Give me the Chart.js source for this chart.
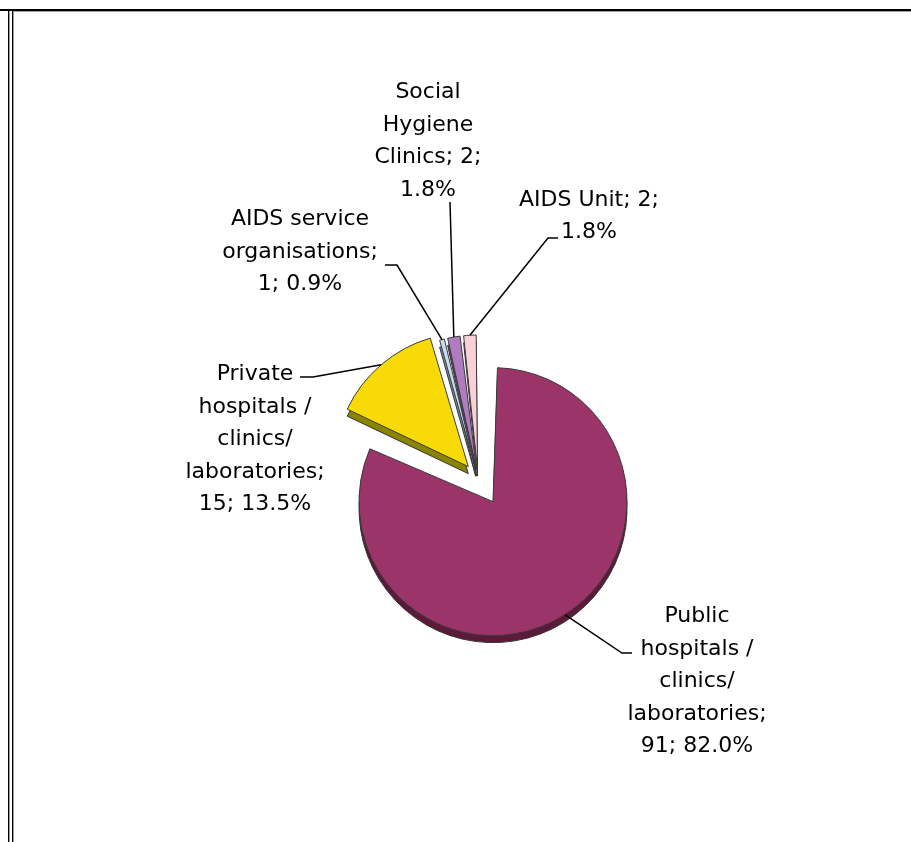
<!DOCTYPE html>
<html>
<head>
<meta charset="utf-8">
<script src="https://cdn.jsdelivr.net/npm/chart.js@4/dist/chart.umd.min.js"></script>
<style>
  html, body { margin: 0; padding: 0; background: #fff; }
  #wrap { position: relative; width: 911px; height: 842px; overflow: hidden; }
  #pie { position: absolute; left: 0; top: 0; }
  .ln { position: absolute; }
</style>
</head>
<body>
<div id="wrap">
  <canvas id="pie" width="911" height="842"></canvas>
  <!-- frame lines round the cell -->
  <div class="ln" style="left:0;top:9px;width:911px;height:2px;background:#000"></div>
  <div class="ln" style="left:13px;top:11px;width:898px;height:1px;background:#a0a0a0"></div>
  <div class="ln" style="left:8px;top:9px;width:1px;height:833px;background:#000"></div>
  <div class="ln" style="left:9px;top:11px;width:1px;height:831px;background:#a0a0a0"></div>
  <div class="ln" style="left:12px;top:9px;width:1px;height:833px;background:#000"></div>
  <div class="ln" style="left:13px;top:11px;width:1px;height:831px;background:#a0a0a0"></div>
</div>
<script>
// data
const categories = [
  "Public hospitals / clinics/ laboratories",
  "Private hospitals / clinics/ laboratories",
  "AIDS service organisations",
  "Social Hygiene Clinics",
  "AIDS Unit"
];
const counts = [91, 15, 1, 2, 2];
const percents = ["82.0%", "13.5%", "0.9%", "1.8%", "1.8%"];

const colors = ["#9b3468", "#f8da06", "#c8dbef", "#b07cc0", "#f9d0d8"];
const sideColors = ["#5c1a3b", "#8a8400", "#7d8ea2", "#6a4078", "#a58890"];
const offsets = [112, 60, 36, 36, 36];
const RADIUS = 134;

// how many words go on each label line
const wordsPerLine = [[1, 2, 1, 1, 2], [1, 2, 1, 1, 2], [2, 1, 2], [1, 1, 2, 1], [3, 1]];

// label placement: centre x, first baseline, leader points from text towards slice
const placement = [
  { x: 697, y: 622, leader: [[632, 653], [622, 653]] },
  { x: 255, y: 380, leader: [[300, 377], [313, 377]] },
  { x: 300, y: 225, leader: [[385, 265], [397, 265]] },
  { x: 428, y: 98,  leader: [[450, 202]] },
  { x: 589, y: 206, leader: [[558, 238], [548, 238]], lineHeight: 32 }
];

function labelLines(i) {
  const words = (categories[i] + "; " + counts[i] + "; " + percents[i]).split(" ");
  const out = [];
  let k = 0;
  wordsPerLine[i].forEach(n => {
    out.push(words.slice(k, k + n).join(" "));
    k += n;
  });
  return out;
}

// Chart.js moves an exploded arc by offset/4 and grows its radius by offset/4*fix
function arcGeom(arc) {
  const p = arc.getProps(["x", "y", "startAngle", "endAngle", "outerRadius", "circumference"], true);
  const move = (arc.options.offset || 0) / 4;
  const fix = 1 - Math.sin(Math.min(Math.PI, p.circumference || 0));
  const grow = move * fix;
  const outer = p.outerRadius + grow;
  const beta = Math.max(0.001, p.circumference * outer - grow / Math.PI) / outer;
  const cut = (p.circumference - beta) / 2;
  const mid = (p.startAngle + p.endAngle) / 2;
  return {
    cx: p.x + Math.cos(mid) * move,
    cy: p.y + Math.sin(mid) * move,
    r: outer,
    start: p.startAngle + cut,
    end: p.endAngle - cut,
    mid
  };
}

// keep every slice the same size even when exploded
const sizePlugin = {
  id: "sameSize",
  afterDatasetUpdate(chart) {
    chart.getDatasetMeta(0).data.forEach(arc => {
      const move = (arc.options.offset || 0) / 4;
      const fix = 1 - Math.sin(Math.min(Math.PI, arc.circumference || 0));
      arc.outerRadius = RADIUS - move * fix;
    });
  }
};

const depthPlugin = {
  id: "depth",
  beforeDatasetsDraw(chart) {
    const ctx = chart.ctx;
    const depth = 7;
    chart.getDatasetMeta(0).data.forEach((arc, i) => {
      const g = arcGeom(arc);
      ctx.save();
      ctx.beginPath();
      ctx.moveTo(g.cx, g.cy + depth);
      ctx.arc(g.cx, g.cy + depth, g.r, g.start, g.end);
      ctx.closePath();
      ctx.fillStyle = sideColors[i];
      ctx.fill();
      ctx.strokeStyle = "#333";
      ctx.lineWidth = 1;
      ctx.stroke();
      ctx.restore();
    });
  }
};

const labelPlugin = {
  id: "calloutLabels",
  afterDatasetsDraw(chart) {
    const ctx = chart.ctx;
    ctx.save();
    ctx.font = '22px "DejaVu Sans"';
    ctx.fillStyle = "#000";
    ctx.textAlign = "center";
    ctx.textBaseline = "alphabetic";
    ctx.strokeStyle = "#000";
    ctx.lineWidth = 1.5;
    chart.getDatasetMeta(0).data.forEach((arc, i) => {
      const pl = placement[i];
      const lh = pl.lineHeight || 32.5;
      labelLines(i).forEach((t, k) => ctx.fillText(t, pl.x, pl.y + k * lh));

      const g = arcGeom(arc);
      const ex = g.cx + Math.cos(g.mid) * g.r, ey = g.cy + Math.sin(g.mid) * g.r;
      ctx.beginPath();
      ctx.moveTo(pl.leader[0][0], pl.leader[0][1]);
      pl.leader.slice(1).forEach(q => ctx.lineTo(q[0], q[1]));
      ctx.lineTo(ex, ey);
      ctx.stroke();
    });
    ctx.restore();
  }
};

new Chart(document.getElementById("pie"), {
  type: "pie",
  data: {
    labels: categories,
    datasets: [{
      data: counts,
      backgroundColor: colors,
      borderColor: "#3a3a3a",
      borderWidth: 1,
      offset: offsets
    }]
  },
  options: {
    responsive: false,
    devicePixelRatio: 1,
    animation: false,
    events: [],
    radius: RADIUS,
    layout: { padding: { left: 45, top: 114, right: 0, bottom: 0 } },
    plugins: {
      legend: { display: false },
      tooltip: { enabled: false }
    }
  },
  plugins: [sizePlugin, depthPlugin, labelPlugin]
});
</script>
</body>
</html>
